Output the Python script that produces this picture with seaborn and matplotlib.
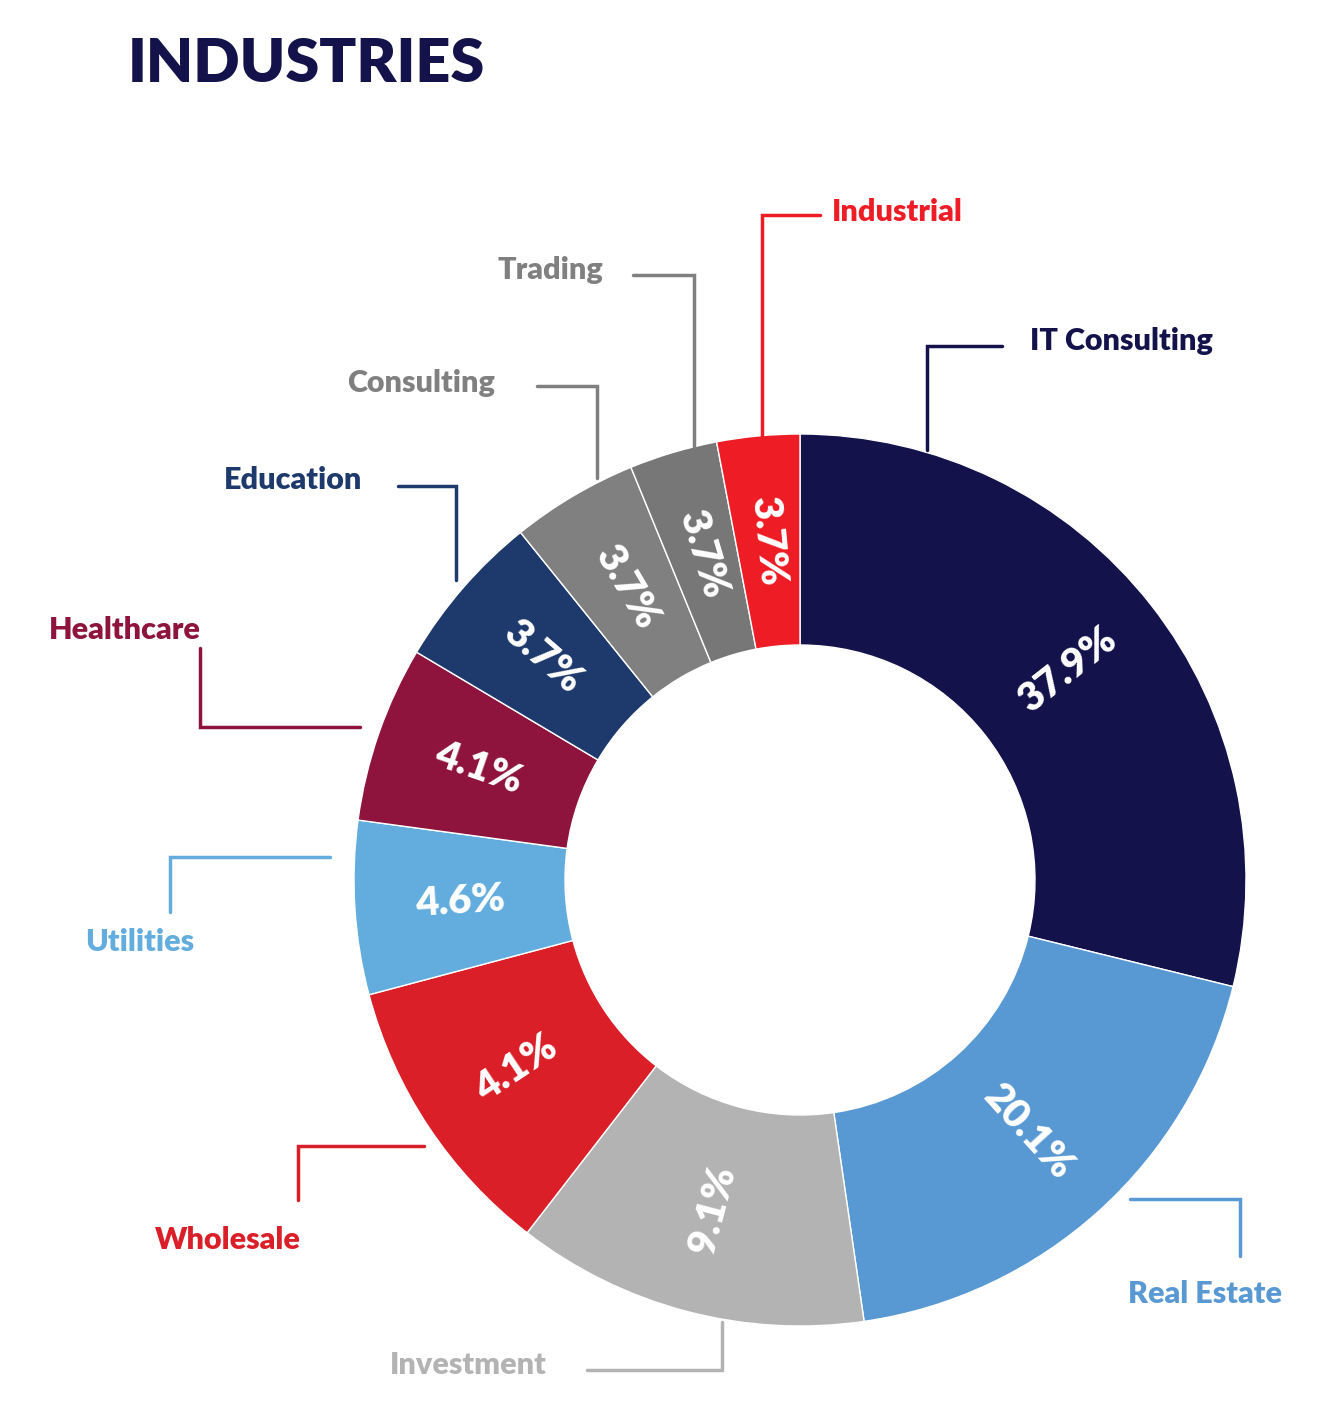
import numpy as np
import matplotlib
matplotlib.use("Agg")
import matplotlib.pyplot as plt
import seaborn as sns

categories = ["IT Consulting", "Real Estate", "Investment", "Wholesale", "Utilities",
              "Healthcare", "Education", "Consulting", "Trading", "Industrial"]
shares = [28.9, 18.9, 12.8, 10.4, 6.3, 6.4, 5.7, 4.6, 3.2, 3.0]  # wedge sizes as drawn
pct_labels = ["37.9%", "20.1%", "9.1%", "4.1%", "4.6%", "4.1%", "3.7%", "3.7%", "3.7%", "3.7%"]
colors = ["#13124A", "#5899D3", "#B3B3B3", "#DA1F28", "#62ADDE",
          "#8E143E", "#1E3A6C", "#808080", "#777777", "#EE1C25"]
label_colors = ["#13124A", "#5899D3", "#B3B3B3", "#DA1F28", "#62ADDE",
                "#8E143E", "#1E3A6C", "#808080", "#808080", "#EE1C25"]

sns.set_style("white")
plt.rcParams["font.family"] = ["Lato", "DejaVu Sans"]

W, H = 1333, 1411
fig = plt.figure(figsize=(W / 100, H / 100), dpi=100)
ax = fig.add_axes([0, 0, 1, 1])
ax.set_xlim(0, W)
ax.set_ylim(0, H)
ax.set_aspect("equal")
ax.axis("off")

def Y(y):
    return H - y

cx, cy, R, r = 800, 880, 446, 235
wedges, _ = ax.pie(shares, colors=colors, startangle=90, counterclock=False,
                   center=(cx, Y(cy)), radius=R, frame=True,
                   wedgeprops=dict(width=R - r, edgecolor="white", linewidth=1))
ax.set_xlim(0, W)
ax.set_ylim(0, H)
ax.axis("off")

for w, lab in zip(wedges, pct_labels):
    mid = (w.theta1 + w.theta2) / 2
    mid = (mid + 180) % 360 - 180
    rl = (R + r) / 2
    x = cx + rl * np.cos(np.radians(mid))
    y = Y(cy) + rl * np.sin(np.radians(mid))
    rot = mid if -90 < mid <= 90 else mid - 180
    ax.text(x, y, lab, rotation=rot, rotation_mode="anchor", ha="center", va="center",
            color="white", fontsize=29, fontweight="heavy")

leaders = {
    "Industrial": ([(762, 437), (762, 215), (820, 215)], (832, 212), "left"),
    "Trading": ([(694, 447), (694, 275), (633, 275)], (603, 270), "right"),
    "Consulting": ([(597, 478), (597, 386), (537, 386)], (495, 383), "right"),
    "Education": ([(456, 580), (456, 486), (398, 486)], (362, 480), "right"),
    "Healthcare": ([(360, 727), (200, 727), (200, 648)], (125, 630), "center"),
    "Utilities": ([(330, 857), (170, 857), (170, 912)], (140, 942), "center"),
    "Wholesale": ([(424, 1146), (298, 1146), (298, 1200)], (228, 1240), "center"),
    "Investment": ([(722, 1322), (722, 1370), (587, 1370)], (547, 1365), "right"),
    "Real Estate": ([(1130, 1199), (1240, 1199), (1240, 1256)], (1205, 1294), "center"),
    "IT Consulting": ([(927, 450), (927, 346), (1002, 346)], (1030, 341), "left"),
}
for cat, col in zip(categories, label_colors):
    pts, (tx, ty), ha = leaders[cat]
    ax.plot([p[0] for p in pts], [Y(p[1]) for p in pts], color=col, lw=2.5,
            solid_joinstyle="miter")
    ax.text(tx, Y(ty), cat, ha=ha, va="center", color=col, fontsize=22, fontweight="heavy")

ax.text(128, Y(64), "INDUSTRIES", ha="left", va="center", color="#13124A",
        fontsize=44, fontweight="heavy")

fig.savefig("out.png", dpi=100)
